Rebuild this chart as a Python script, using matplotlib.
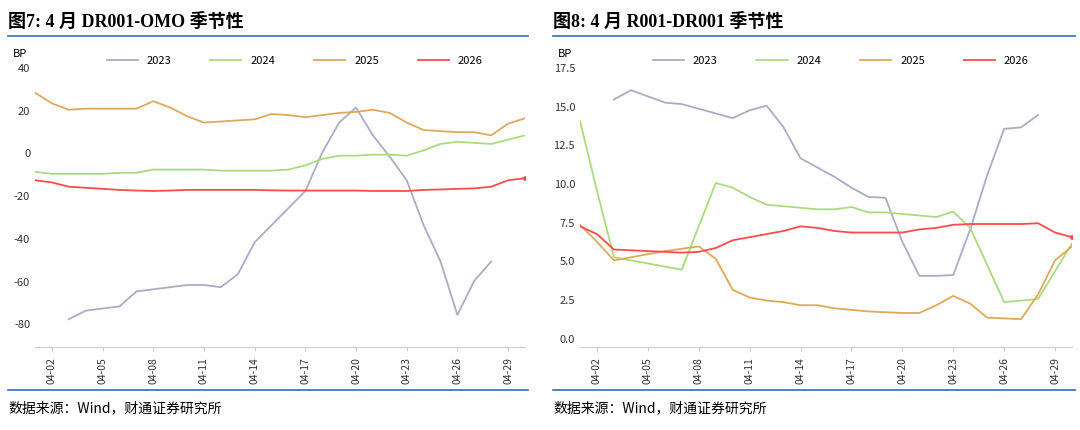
import numpy as np
import matplotlib.pyplot as plt
from matplotlib.lines import Line2D

plt.rcParams['font.family'] = ['Noto Sans CJK SC', 'DejaVu Sans']

days = [f"04-{d:02d}" for d in range(1, 31)]
N = np.nan

# 图7: DR001-OMO (BP)
dr_2023 = [N, N, -78, -74, -73, -72, -65, -64, -63, -62, -62, -63, -57, -42, -34, -26, -18, 0, 14, 21,
           8, -2, -13, -34, -51, -76, -60, -51, N, N]
dr_2024 = [-9, -10, -10, -10, -10, -9.5, -9.5, -8, -8, -8, -8, -8.5, -8.5, -8.5, -8.5, -8, -6, -3, -1.5, -1.5,
           -1, -1, -1.5, 1, 4, 5, 4.5, 4, 6, 8]
dr_2025 = [28, 23, 20, 20.5, 20.5, 20.5, 20.5, 24, 21, 17, 14, 14.5, 15, 15.5, 18, 17.5, 16.5, 17.5, 18.5, 19,
           20, 18.5, 14, 10.5, 10, 9.5, 9.5, 8, 13.5, 16]
dr_2026 = [-13, -14, -16, -16.5, -17, -17.5, -17.8, -18, -17.8, -17.5, -17.5, -17.5, -17.5, -17.5, -17.7, -17.8,
           -17.8, -17.8, -17.8, -17.8, -18, -18, -18, -17.5, -17.3, -17, -16.8, -16, -13, -12]

# 图8: R001-DR001 (BP)
r_2023 = [N, N, 15.4, 16.0, 15.6, 15.2, 15.1, 14.8, 14.5, 14.2, 14.7, 15.0, 13.6, 11.6, 11.0, 10.4, 9.7, 9.1,
          9.05, 6.2, 4.0, 4.0, 4.05, 7.0, 10.5, 13.5, 13.6, 14.4, N, N]
r_2024 = [14.0, 9.5, 5.2, 5.0, 4.8, 4.6, 4.4, 7.2, 10.0, 9.7, 9.1, 8.6, 8.5, 8.4, 8.3, 8.3, 8.45, 8.1, 8.1, 8.0,
          7.9, 7.8, 8.15, 7.1, 4.7, 2.3, 2.4, 2.5, 4.3, 6.1]
r_2025 = [7.3, 6.2, 5.0, 5.2, 5.4, 5.6, 5.75, 5.9, 5.1, 3.1, 2.6, 2.4, 2.3, 2.1, 2.1, 1.9, 1.8, 1.7, 1.65, 1.6,
          1.6, 2.1, 2.7, 2.2, 1.3, 1.25, 1.2, 2.8, 5.0, 5.9]
r_2026 = [7.2, 6.7, 5.7, 5.65, 5.6, 5.55, 5.5, 5.55, 5.8, 6.3, 6.5, 6.7, 6.9, 7.2, 7.1, 6.9, 6.8, 6.8, 6.8, 6.8,
          7.0, 7.1, 7.3, 7.35, 7.35, 7.35, 7.35, 7.4, 6.8, 6.5]

years = ['2023', '2024', '2025', '2026']
colors = ['#a9adc4', '#a9db7f', '#e0a85a', '#ff4b4b']

fig = plt.figure(figsize=(10.8, 4.31), dpi=100)


def panel(left, right, title, series, ylim, yticks, yfmt):
    W, H = 1080, 431
    fig.text(left / W, 1 - 22 / H, title, fontsize=13, fontweight='bold', va='center', ha='left',
             family=['Liberation Serif', 'Noto Sans CJK SC'])
    fig.add_artist(Line2D([left / W, right / W], [1 - 37 / H] * 2, color='#2e6db4', lw=1.2))
    fig.add_artist(Line2D([left / W, right / W], [1 - 391 / H] * 2, color='#2e6db4', lw=1.2))
    fig.text(left / W, 1 - 408 / H, '数据来源：Wind，财通证券研究所', fontsize=10, va='center', ha='left')

    ax = fig.add_axes([(left + 27) / W, 1 - 348 / H, (right - left - 30) / W, 280 / H])
    x = np.arange(len(days))
    for s, c, y in zip(series, colors, years):
        ax.plot(x, s, color=c, lw=1.3, label=y)
    ax.plot(x[-1], series[-1][-1], 'o', color=colors[3], ms=2.5)
    ax.set_xlim(0, len(days) - 1)
    ax.set_ylim(*ylim)
    ax.set_yticks(yticks)
    ax.set_yticklabels([yfmt.format(v) for v in yticks], fontsize=8, color='#333333')
    ax.set_xticks(x[1::3])
    ax.set_xticklabels(days[1::3], rotation=90, fontsize=7.5, color='#333333')
    for sp in ['top', 'right', 'left']:
        ax.spines[sp].set_visible(False)
    ax.spines['bottom'].set_color('#cccccc')
    ax.tick_params(axis='y', length=0)
    ax.tick_params(axis='x', length=3, color='#cccccc')
    ax.text(-0.03, 1.04, 'BP', transform=ax.transAxes, fontsize=8, ha='center')
    ax.legend(loc='lower center', bbox_to_anchor=(0.53, 0.97), ncol=4, frameon=False, fontsize=8,
              handlelength=2.8, columnspacing=3.5)
    return ax


panel(8, 528, '图7: 4 月 DR001-OMO 季节性', [dr_2023, dr_2024, dr_2025, dr_2026],
      (-91, 40), [-80, -60, -40, -20, 0, 20, 40], '{:.0f}')
panel(553, 1075, '图8: 4 月 R001-DR001 季节性', [r_2023, r_2024, r_2025, r_2026],
      (-0.6, 17.5), [0, 2.5, 5, 7.5, 10, 12.5, 15, 17.5], '{:.1f}')

fig.savefig('out.png', dpi=100)
